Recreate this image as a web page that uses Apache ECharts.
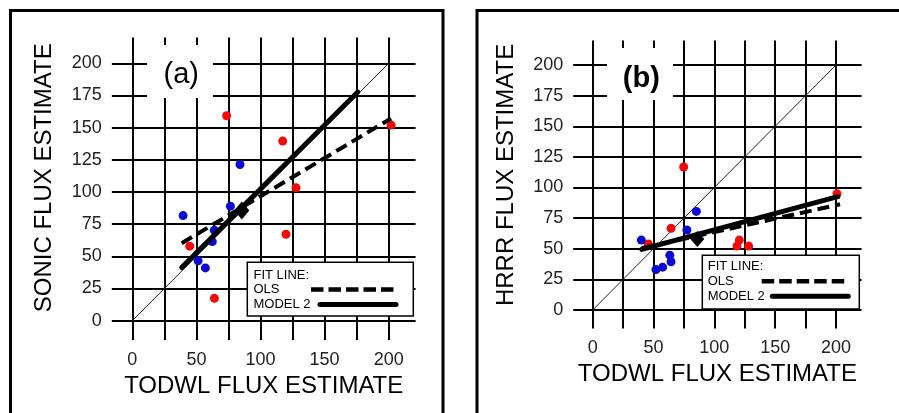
<!DOCTYPE html>
<html>
<head>
<meta charset="utf-8">
<title>Flux estimates</title>
<script src="https://cdn.jsdelivr.net/npm/echarts@6/dist/echarts.min.js"></script>
<style>
  html, body { margin: 0; padding: 0; background: #fff; }
  #chart { width: 899px; height: 413px; }
</style>
</head>
<body>
<div id="chart"></div>
<script>
// ── Data ─────────────────────────────────────────────────────

const gridTicks  = [0, 25, 50, 75, 100, 125, 150, 175, 200];
const xLabelVals = [0, 50, 100, 150, 200];
const yLabelVals = [0, 25, 50, 75, 100, 125, 150, 175, 200];

const oneToOne = [[0, 0], [200, 200]];

// panel (a): SONIC vs TODWL
const redA    = [[73.6, 159.3], [117.3, 139.6], [201.9, 152], [127.7, 103.3], [119.9, 67.2], [44.8, 57.9], [64, 17.4]];
const blueA   = [[39.6, 81.7], [84, 121.4], [76.5, 89], [64, 70.3], [62.4, 61.5], [51.3, 46.5], [57, 41]];
const meanA   = [[85.4, 85.6]];
const olsA    = [[38.5, 60.2], [201.9, 157.2]];
const model2A = [[38.5, 41.3], [175.9, 177.7]];

// panel (b): HRRR vs TODWL
const redB    = [[74.8, 116.7], [200.8, 94.9], [64.4, 66.7], [45.7, 53.9], [118.6, 52.2], [120.5, 57.1], [128.2, 52.2]];
const blueB   = [[40, 57.1], [85.2, 80.5], [77.4, 65.3], [63.4, 44.8], [64.4, 39.4], [57.5, 35], [52, 33]];
const meanB   = [[86, 58]];
const olsB    = [[40.3, 50.5], [203.3, 86.3]];
const model2B = [[40.3, 49.5], [201.4, 92.5]];


// ── Styles ───────────────────────────────────────────────────

const FONT = "'Liberation Sans', Arial, sans-serif";
const RED  = '#f00a0a';
const BLUE = '#0a0ad2';

const echart = echarts.init(document.getElementById('chart'), null, { renderer: 'canvas' });

function xAxisFor(gridIndex) {
  return {
    gridIndex, type: 'value', min: -16, max: 221,
    name: 'TODWL FLUX ESTIMATE', nameLocation: 'middle',
    nameGap: gridIndex === 0 ? 29 : 31,
    nameTextStyle: { fontFamily: FONT, fontSize: 24, color: '#000' },
    axisLine:  { show: false, onZero: false },
    axisTick:  { show: false, customValues: gridTicks },
    axisLabel: { customValues: xLabelVals, margin: 11, fontFamily: FONT, fontSize: 18, color: '#222' },
    splitLine: { show: true, lineStyle: { color: '#000', width: 2 } },
  };
}

function yAxisFor(gridIndex, title, shift) {
  return {
    gridIndex, type: 'value', min: -15, max: 220,
    name: title, nameLocation: 'middle', nameRotate: 90, nameGap: 55,
    nameTextStyle: { fontFamily: FONT, fontSize: 24, color: '#000', padding: [0, 0, 0, shift] },
    axisLine:  { show: false, onZero: false },
    axisTick:  { show: false, customValues: gridTicks },
    axisLabel: { customValues: yLabelVals, margin: 10, fontFamily: FONT, fontSize: 18, color: '#222' },
    splitLine: { show: true, lineStyle: { color: '#000', width: 2 } },
  };
}

function panelSeries(i, red, blue, mean, ols, model2, diamond) {
  return [
    { type: 'line', xAxisIndex: i, yAxisIndex: i, data: oneToOne, showSymbol: false,
      lineStyle: { color: '#222', width: 1 }, z: 1 },
    { type: 'scatter', xAxisIndex: i, yAxisIndex: i, data: red, symbolSize: 9,
      itemStyle: { color: RED, opacity: 1 }, z: 2 },
    { type: 'scatter', xAxisIndex: i, yAxisIndex: i, data: blue, symbolSize: 9,
      itemStyle: { color: BLUE, opacity: 1 }, z: 2 },
    { type: 'line', xAxisIndex: i, yAxisIndex: i, data: ols, showSymbol: false,
      lineStyle: { color: '#000', width: 4, type: [12, 6] }, z: 3 },
    { type: 'line', xAxisIndex: i, yAxisIndex: i, data: model2, showSymbol: false,
      lineStyle: { color: '#000', width: 5, cap: 'round' }, z: 4 },
    { type: 'scatter', xAxisIndex: i, yAxisIndex: i, data: mean, symbol: 'diamond',
      symbolSize: diamond, itemStyle: { color: '#000', opacity: 1 }, z: 5 },
  ];
}

// panel tag with white box that cuts the grid
function tag(x, y, w, h, text, bold, cx, cy) {
  return [
    { type: 'rect', z: 50, shape: { x, y, width: w, height: h }, style: { fill: '#fff' } },
    { type: 'text', z: 51, x: cx, y: cy,
      style: { text, fill: '#000', font: (bold ? 'bold ' : '') + '29px ' + FONT,
               align: 'center', verticalAlign: 'middle' } },
  ];
}

// the FIT LINE key box
function keyBox(x, y, w, h, tx, rows, dash, solid) {
  const f = '13px ' + FONT;
  return [
    { type: 'rect', z: 50, shape: { x, y, width: w, height: h },
      style: { fill: '#fff', stroke: '#000', lineWidth: 1.5 } },
    { type: 'text', z: 51, x: tx, y: rows[0], style: { text: 'FIT LINE:', font: f, fill: '#000', verticalAlign: 'middle' } },
    { type: 'text', z: 51, x: tx, y: rows[1], style: { text: 'OLS', font: f, fill: '#000', verticalAlign: 'middle' } },
    { type: 'text', z: 51, x: tx, y: rows[2], style: { text: 'MODEL 2', font: f, fill: '#000', verticalAlign: 'middle' } },
    { type: 'line', z: 51, shape: { x1: dash[0], y1: rows[1], x2: dash[1], y2: rows[1] },
      style: { stroke: '#000', lineWidth: 4.5, lineDash: [12.5, 5] } },
    { type: 'line', z: 51, shape: { x1: solid[0], y1: rows[2], x2: solid[1], y2: rows[2] },
      style: { stroke: '#000', lineWidth: 5, lineCap: 'round' } },
  ];
}

echart.setOption({
  animation: false,
  backgroundColor: '#fff',
  grid: [
    { left: 111.8, top: 37.6, width: 303.8, height: 302.4 },
    { left: 573.2, top: 40.5, width: 288.4, height: 287.9 },
  ],
  xAxis: [xAxisFor(0), xAxisFor(1)],
  yAxis: [yAxisFor(0, 'SONIC FLUX ESTIMATE', 22), yAxisFor(1, 'HRRR FLUX ESTIMATE', 19)],
  series: [
    ...panelSeries(0, redA, blueA, meanA, olsA, model2A, [15, 18]),
    ...panelSeries(1, redB, blueB, meanB, olsB, model2B, [14, 16]),
  ],
  graphic: [
    // panel frames
    { type: 'rect', z: 60, shape: { x: 10.5, y: 10.5, width: 432.5, height: 440 },
      style: { fill: 'none', stroke: '#000', lineWidth: 3 } },
    { type: 'rect', z: 60, shape: { x: 477, y: 10.5, width: 460, height: 440 },
      style: { fill: 'none', stroke: '#000', lineWidth: 3 } },
    ...tag(147, 45, 66, 53, '(a)', false, 181.3, 74.5),
    ...tag(607, 48, 66, 52, '(b)', true, 641.3, 79),
    ...keyBox(247.3, 262.3, 166, 53.7, 253.5, [275.7, 289.6, 304.5], [311, 397], [320, 396]),
    ...keyBox(702.3, 255.3, 157, 53.7, 707.7, [266.3, 281.3, 296.3], [761.7, 849], [772.3, 848.3]),
  ],
});
</script>
</body>
</html>
